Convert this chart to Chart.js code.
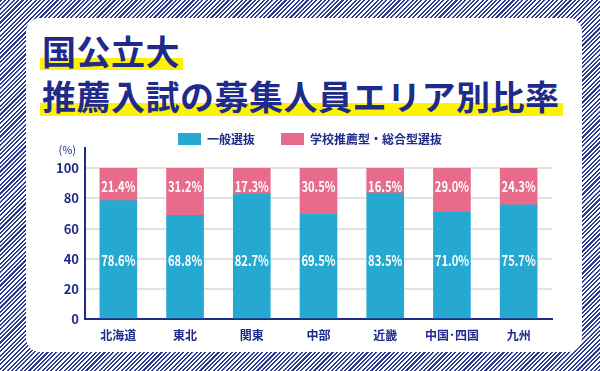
<!DOCTYPE html>
<html lang="ja">
<head>
    <meta charset="UTF-8">
    <title>国公立大 推薦入試の募集人員エリア別比率</title>
    <script src="https://cdn.jsdelivr.net/npm/chart.js@4"></script>
    <style>
        html, body {
            margin: 0;
            padding: 0;
        }
        body {
            width: 600px;
            height: 371px;
            overflow: hidden;
            position: relative;
            background: repeating-linear-gradient(135deg, #2b3a93 0 1.5px, #ffffff 1.5px 3.1px);
            font-family: 'Noto Sans CJK JP', sans-serif;
        }
        .panel {
            position: absolute;
            left: 26px;
            top: 18px;
            width: 556px;
            height: 334px;
            background: #fff;
            border-radius: 14px;
        }
        .title-line {
            position: absolute;
            left: 40px;
            color: #1e2b8a;
            font-weight: 700;
            font-size: 34px;
            line-height: 40px;
            white-space: nowrap;
            letter-spacing: 0.5px;
        }
        .title-line span {
            position: relative;
            padding: 0 2px;
        }
        .mark {
            position: absolute;
            background: #fff200;
        }
        canvas {
            position: absolute;
            left: 0;
            top: 0;
        }
    </style>
</head>
<body>
    <div class="panel"></div>
    <!-- yellow highlight under each title line -->
    <div class="mark" style="left:40px; top:58px; width:143px; height:12px;"></div>
    <div class="mark" style="left:40px; top:103px; width:523px; height:13px;"></div>
    <div class="title-line" style="top:31px;"><span>国公立大</span></div>
    <div class="title-line" style="top:76px;"><span>推薦入試の募集人員エリア別比率</span></div>

    <canvas id="chart" width="600" height="371"></canvas>

    <script>
        // regions and shares (%)
        const regions = ['北海道', '東北', '関東', '中部', '近畿', '中国･四国', '九州'];
        const ippan = [78.6, 68.8, 82.7, 69.5, 83.5, 71.0, 75.7];
        const suisen = [21.4, 31.2, 17.3, 30.5, 16.5, 29.0, 24.3];
        const yTicks = [0, 20, 40, 60, 80, 100];

        const navy = '#1e2b8a';
        const cyan = '#25a9d1';
        const pink = '#e96b8b';
        const font = '"Noto Sans CJK JP", sans-serif';

        // move the legend to where it sits in the picture
        const legendShift = {
            id: 'legendShift',
            afterLayout(chart) {
                const lg = chart.legend;
                const dy = 107 - lg.top;
                const dx = 310 - (lg.left + lg.right) / 2;
                lg.top += dy; lg.bottom += dy;
                lg.left += dx; lg.right += dx;
            }
        };

        // white % labels at fixed heights inside the bars
        const barLabels = {
            id: 'barLabels',
            afterDatasetsDraw(chart) {
                const ctx = chart.ctx;
                const y = chart.scales.y;
                ctx.save();
                ctx.fillStyle = '#fff';
                ctx.font = 'bold 14px ' + font;
                ctx.textAlign = 'center';
                ctx.textBaseline = 'middle';
                chart.data.datasets.forEach((ds, i) => {
                    const yPos = y.getPixelForValue(i === 0 ? 38.5 : 88);
                    chart.getDatasetMeta(i).data.forEach((bar, j) => {
                        // narrow lettering like the original
                        ctx.save();
                        ctx.translate(bar.x, yPos);
                        ctx.scale(0.8, 1);
                        ctx.fillText(ds.data[j].toFixed(1) + '%', 0, 0);
                        ctx.restore();
                    });
                });
                // unit label above the axis
                ctx.fillStyle = navy;
                ctx.font = '11px ' + font;
                ctx.textAlign = 'right';
                ctx.fillText('(%)', 76, 150);
                ctx.restore();
            }
        };

        new Chart(document.getElementById('chart'), {
            type: 'bar',
            data: {
                labels: regions,
                datasets: [
                    { label: '一般選抜', data: ippan, backgroundColor: cyan },
                    { label: '学校推薦型・総合型選抜', data: suisen, backgroundColor: pink }
                ]
            },
            options: {
                responsive: false,
                animation: false,
                layout: { padding: { left: 41, right: 48, top: 100, bottom: 22 } },
                datasets: {
                    bar: { barThickness: 37 }
                },
                plugins: {
                    legend: {
                        labels: {
                            boxWidth: 23,
                            boxHeight: 12,
                            color: navy,
                            padding: 26,
                            font: { family: font, size: 12, weight: 'bold' }
                        }
                    },
                    tooltip: { enabled: false }
                },
                scales: {
                    x: {
                        stacked: true,
                        grid: { display: false, drawTicks: false },
                        border: { color: navy, width: 2 },
                        ticks: {
                            color: navy,
                            padding: 9,
                            font: { family: font, size: 12, weight: 'bold' }
                        },
                        afterFit(scale) { scale.height = 30; }
                    },
                    y: {
                        stacked: true,
                        min: 0,
                        max: 113.5,
                        afterBuildTicks(scale) { scale.ticks = yTicks.map(v => ({ value: v })); },
                        grid: { color: '#e2e2e2', lineWidth: 2, drawTicks: false },
                        border: { color: navy, width: 2 },
                        ticks: {
                            color: navy,
                            padding: 6,
                            font: { family: font, size: 13, weight: 'bold' }
                        },
                        afterFit(scale) { scale.width = 44; }
                    }
                }
            },
            plugins: [legendShift, barLabels]
        });
    </script>
</body>
</html>
